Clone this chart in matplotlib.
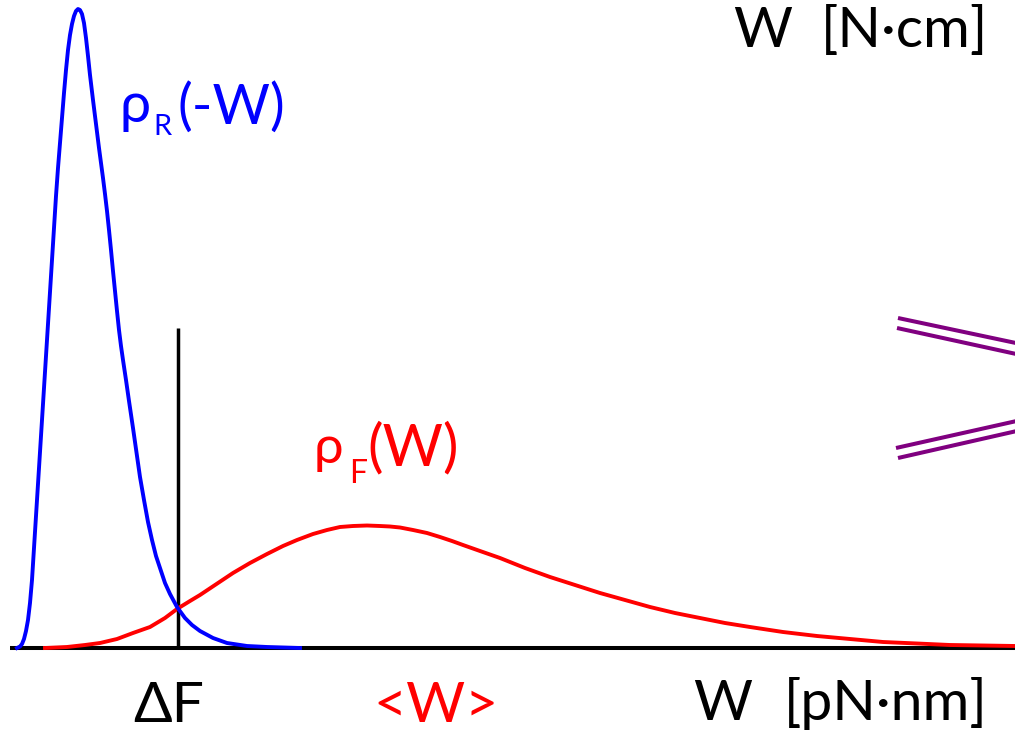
import matplotlib
matplotlib.use("Agg")
import matplotlib.pyplot as plt

# Work W (arbitrary units, left->right) and probability density heights
blue_w = [17, 20, 22, 24, 26, 28, 30, 32, 34, 36, 38, 40, 42, 44, 46, 48, 50, 52, 54, 56, 58,
          60, 62, 64, 66, 68, 70, 72, 74, 76, 78, 80, 82, 84, 86, 88, 90, 93, 96, 99, 101, 103,
          105, 107, 109, 111, 113, 115, 117, 119, 121, 123, 126, 129, 133, 137, 140, 144, 148,
          152, 156, 160, 165, 170, 177, 185, 192, 200, 213, 227, 247, 267, 300]
blue_rho = [0, 1.5, 4, 9, 17, 28, 45, 68, 100, 132, 164, 196, 228, 260, 292, 324, 356, 388,
            420, 452, 480, 505, 530, 555, 578, 598, 613, 624, 632, 637, 639, 638, 634, 625,
            610, 592, 573, 548, 524, 500, 485, 470, 454, 437, 418, 398, 377, 357, 337, 318,
            302, 288, 268, 247, 220, 192, 171, 148, 126, 108, 92, 80, 65, 54, 41, 30, 23, 17,
            10, 5, 2, 1, 0]

red_w = [45, 67, 85, 100, 117, 133, 150, 165, 177, 190, 200, 215, 233, 250, 267, 283, 297, 313,
         327, 340, 353, 367, 380, 390, 400, 413, 427, 440, 452, 463, 480, 500, 525, 550, 575,
         600, 625, 650, 675, 700, 725, 750, 783, 817, 850, 883, 917, 950, 983, 1015]
red_rho = [0, 1, 3, 5, 9, 15, 21, 30, 39, 47, 53, 63, 75, 85, 94, 102, 108, 114, 118, 121, 122,
           122.5, 122, 121.5, 120.5, 118, 115, 111, 107, 103, 97, 90, 80, 71, 63, 55, 48, 41,
           35, 30, 25, 21, 16, 12, 9, 6, 4.5, 3, 2.5, 2]

delta_F = 178
delta_F_top = 320

BASE = 648  # pixel row of the W axis

fig = plt.figure(figsize=(10.15, 7.33), dpi=100)
ax = fig.add_axes([0, 0, 1, 1])
ax.set_xlim(0, 1015)
ax.set_ylim(BASE - 733, BASE)
ax.axis("off")

FONT = ["Lato", "DejaVu Sans"]

# axis line
ax.plot([10, 1015], [0, 0], color="black", lw=2.9, solid_capstyle="butt", zorder=2)
# delta F marker
ax.plot([delta_F, delta_F], [0, delta_F_top], color="black", lw=2.5, solid_capstyle="butt", zorder=3)
# curves
ax.plot(red_w, red_rho, color="#ff0000", lw=2.8, zorder=4, solid_joinstyle="round")
ax.plot(blue_w, blue_rho, color="#0000ff", lw=2.8, zorder=5, solid_joinstyle="round")

# axis break marks (purple double lines)
pc = "#800080"
for (x0, y0, x1, y1) in [(898, 318, 1030, 346), (897, 328, 1030, 357),
                         (896, 448, 1030, 418), (898, 458, 1030, 428)]:
    ax.plot([x0, x1], [BASE - y0, BASE - y1], color=pc, lw=2.9, solid_capstyle="butt",
            zorder=3, clip_on=False)


def txt(x, ypix, s, color, size, ha="left"):
    ax.text(x, BASE - ypix, s, color=color, fontsize=size, family=FONT,
            ha=ha, va="baseline")


# top-right unit label
txt(733, 47, "W", "black", 41)
txt(988, 47, "[N·cm]", "black", 41, ha="right")
# rho_R(-W)
txt(120, 122, "ρ", "#0000ff", 40)
txt(153, 135, "R", "#0000ff", 21)
txt(178, 124, "(-W)", "#0000ff", 40)
# rho_F(W)
txt(314, 463, "ρ", "#ff0000", 38)
txt(349, 483, "F", "#ff0000", 23)
txt(367, 465, "(W)", "#ff0000", 42)
# bottom labels
txt(133, 722, "ΔF", "black", 41)
txt(373, 722, "<W>", "#ff0000", 41)
txt(693, 720, "W", "black", 41)
txt(988, 720, "[pN·nm]", "black", 41, ha="right")

fig.savefig("out.png", dpi=100, facecolor="white")
